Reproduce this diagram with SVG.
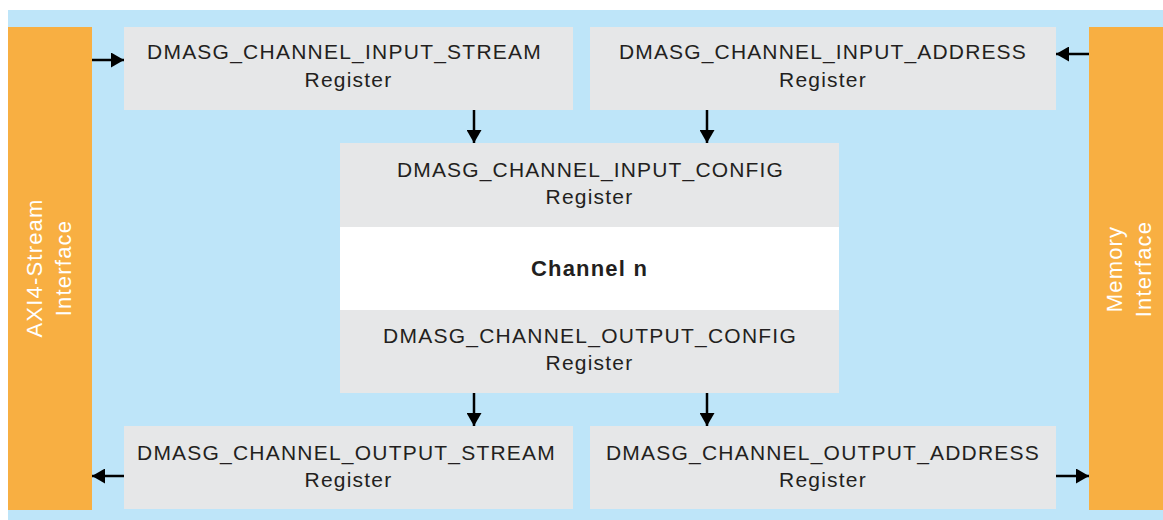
<svg xmlns="http://www.w3.org/2000/svg" width="1163" height="520" viewBox="0 0 1163 520">
  <defs>
    <marker id="ah" viewBox="0 0 13 15" refX="13" refY="7.5" markerWidth="13" markerHeight="15" markerUnits="userSpaceOnUse" orient="auto">
      <path d="M0,0 L13,7.5 L0,15 Z" fill="#000"/>
    </marker>
    <style>
      .reg { fill: #e6e7e8; }
      .ifc { fill: #f8af42; }
      .t { font-family: "Liberation Sans", Arial, sans-serif; font-size: 21px; letter-spacing: 1.2px; fill: #231f20; text-anchor: middle; }
      .s { text-anchor: start; }
      .b { font-weight: bold; font-size: 22px; }
      .w { font-family: "Liberation Sans", Arial, sans-serif; font-size: 22px; letter-spacing: 1.2px; fill: #ffffff; text-anchor: middle; }
      .c { stroke: #000; stroke-width: 2.5; fill: none; marker-end: url(#ah); }
    </style>
  </defs>
  <rect x="0" y="0" width="1163" height="520" fill="#ffffff"/>
  <rect x="8" y="10" width="1155" height="510" fill="#bee5f9"/>

  <g id="axi4-stream-interface">
    <rect class="ifc" x="8" y="27" width="84" height="483"/>
    <text class="w" transform="translate(42,268) rotate(-90)"><tspan x="0" y="0">AXI4-Stream</tspan><tspan x="0" y="29">Interface</tspan></text>
  </g>
  <g id="memory-interface">
    <rect class="ifc" x="1089" y="27" width="74" height="483"/>
    <text class="w" transform="translate(1122,269) rotate(-90)"><tspan x="0" y="0">Memory</tspan><tspan x="0" y="29">Interface</tspan></text>
  </g>

  <g id="input-stream">
    <rect class="reg" x="124" y="27" width="449" height="83"/>
    <text class="t s" x="147" y="59" textLength="395" lengthAdjust="spacing">DMASG_CHANNEL_INPUT_STREAM</text>
    <text class="t" x="348.5" y="87">Register</text>
  </g>
  <g id="input-address">
    <rect class="reg" x="590" y="27" width="466" height="83"/>
    <text class="t s" x="619" y="59" textLength="408" lengthAdjust="spacing">DMASG_CHANNEL_INPUT_ADDRESS</text>
    <text class="t" x="823" y="87">Register</text>
  </g>

  <g id="channel">
    <rect x="340" y="143" width="499" height="250" fill="#ffffff"/>
    <g id="input-config">
      <rect class="reg" x="340" y="143" width="499" height="84"/>
      <text class="t s" x="397" y="177" textLength="387" lengthAdjust="spacing">DMASG_CHANNEL_INPUT_CONFIG</text>
      <text class="t" x="589.5" y="204">Register</text>
    </g>
    <text class="t b" x="589.5" y="276">Channel n</text>
    <g id="output-config">
      <rect class="reg" x="340" y="310" width="499" height="83"/>
      <text class="t s" x="383" y="343" textLength="414" lengthAdjust="spacing">DMASG_CHANNEL_OUTPUT_CONFIG</text>
      <text class="t" x="589.5" y="370">Register</text>
    </g>
  </g>

  <g id="output-stream">
    <rect class="reg" x="124" y="426" width="449" height="83"/>
    <text class="t s" x="137" y="460" textLength="419" lengthAdjust="spacing">DMASG_CHANNEL_OUTPUT_STREAM</text>
    <text class="t" x="348.5" y="487">Register</text>
  </g>
  <g id="output-address">
    <rect class="reg" x="590" y="426" width="466" height="83"/>
    <text class="t s" x="606" y="460" textLength="434" lengthAdjust="spacing">DMASG_CHANNEL_OUTPUT_ADDRESS</text>
    <text class="t" x="823" y="487">Register</text>
  </g>

  <g id="connectors">
    <line class="c" x1="92" y1="60" x2="124" y2="60"/>
    <line class="c" x1="1089" y1="54" x2="1056" y2="54"/>
    <line class="c" x1="474" y1="110" x2="474" y2="143"/>
    <line class="c" x1="707" y1="110" x2="707" y2="143"/>
    <line class="c" x1="474" y1="393" x2="474" y2="426"/>
    <line class="c" x1="707" y1="393" x2="707" y2="426"/>
    <line class="c" x1="124" y1="476" x2="92" y2="476"/>
    <line class="c" x1="1056" y1="476" x2="1089" y2="476"/>
  </g>
</svg>
